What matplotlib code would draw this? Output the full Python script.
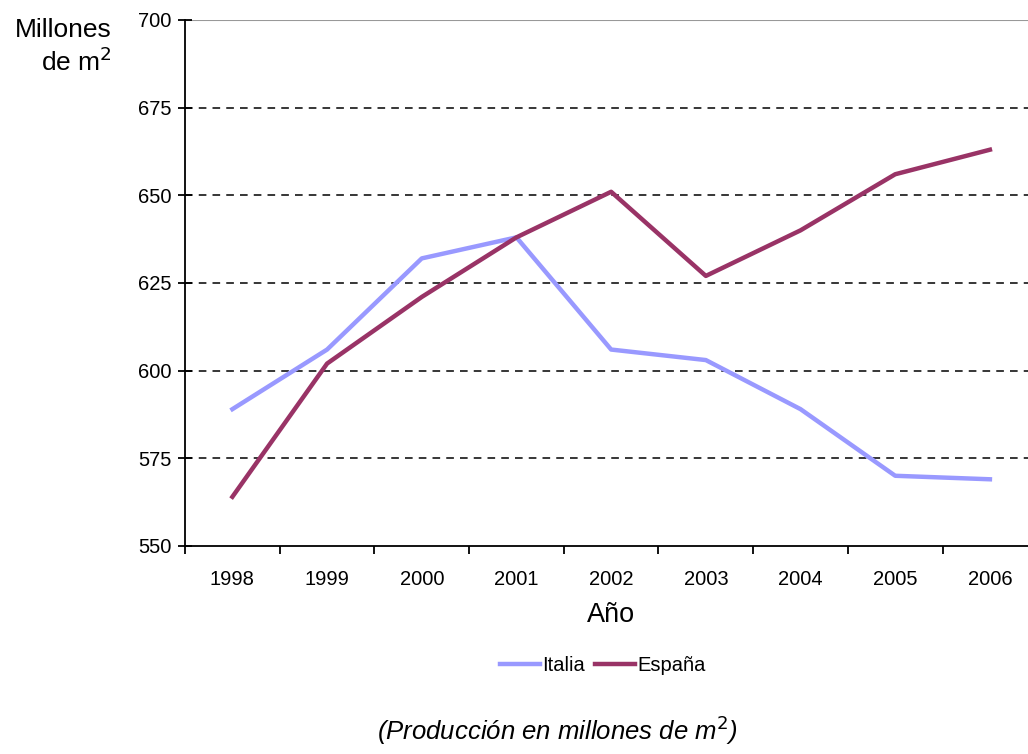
import numpy as np
import matplotlib.pyplot as plt

plt.rcParams['font.family'] = ['Liberation Sans', 'DejaVu Sans']

years = ['1998', '1999', '2000', '2001', '2002', '2003', '2004', '2005', '2006']
italia = [589, 606, 632, 638, 606, 603, 589, 570, 569]
espana = [564, 602, 621, 638, 651, 627, 640, 656, 663]

fig = plt.figure(figsize=(10.28, 7.54), dpi=100)
# the category axis runs a little past the right edge of the image
ax = fig.add_axes([0.18, 0.276, 0.829, 0.6975])

x = np.arange(len(years))
ax.plot(x, italia, color='#9999ff', lw=3.2, label='Italia')
ax.plot(x, espana, color='#993366', lw=3.2, label='España')

ax.set_xlim(-0.5, len(years) - 0.5)
ax.set_ylim(550, 700)
ax.set_yticks(np.arange(550, 701, 25))
ax.tick_params(axis='y', direction='inout', length=10, width=1.3, labelsize=14.5, pad=5)
ax.set_xticks(x)
ax.set_xticklabels(years)
ax.tick_params(axis='x', which='major', length=0, labelsize=14.5, pad=17)
ax.set_xticks(np.arange(-0.5, len(years) - 0.5, 1), minor=True)
ax.tick_params(axis='x', which='minor', direction='out', length=6, width=1.3)

for v in [575, 600, 625, 650, 675]:
    ax.axhline(v, color='black', ls=(0, (5, 4)), lw=1.1, zorder=0)
ax.axhline(700, color='#999999', lw=1.5, zorder=0)

for s in ['top', 'right']:
    ax.spines[s].set_visible(False)
ax.spines['left'].set_linewidth(1.3)
ax.spines['bottom'].set_linewidth(1.3)

ax.set_xlabel('Año', fontsize=19.5, labelpad=10)
fig.text(0.109, 0.938, 'Millones\nde m$^2$', fontsize=19, ha='right', va='center',
         multialignment='right', linespacing=1.25)

ax.legend(loc='center', bbox_to_anchor=(0.49, -0.227), ncol=2, frameon=False,
          fontsize=14.5, handlelength=2.0, handletextpad=0.1, columnspacing=0.5)

fig.text(0.542, 0.018, '(Producción en millones de m$^2$)', fontsize=18.5,
         style='italic', ha='center', va='baseline')

fig.savefig('out.png', dpi=100)
